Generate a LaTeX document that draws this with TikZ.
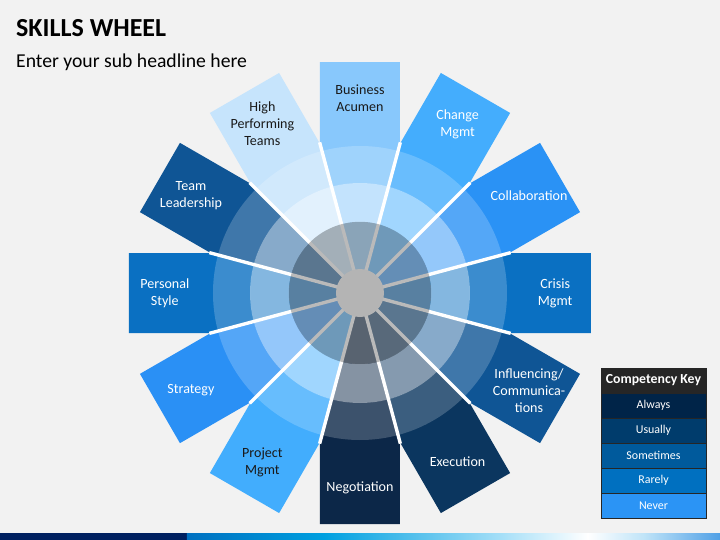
\documentclass[tikz,border=0pt]{standalone}
\usepackage{fontspec}
\setmainfont{Carlito}
\usetikzlibrary{positioning}
\definecolor{bgcol}{HTML}{F2F2F2}
\definecolor{acumen}{HTML}{88C8FC}
\definecolor{change}{HTML}{44ADFD}
\definecolor{collab}{HTML}{2A92F5}
\definecolor{crisis}{HTML}{0A70C2}
\definecolor{influ}{HTML}{0F5595}
\definecolor{execu}{HTML}{0B365F}
\definecolor{nego}{HTML}{0C2748}
\definecolor{project}{HTML}{42ADFD}
\definecolor{strategy}{HTML}{2A90F5}
\definecolor{personal}{HTML}{0A70C2}
\definecolor{teamlead}{HTML}{0F5595}
\definecolor{highperf}{HTML}{C6E4FC}
\definecolor{ringgray}{HTML}{8C8C8C}
\definecolor{hubgray}{HTML}{B4B4B4}
\definecolor{darktext}{HTML}{1A1A1A}
\definecolor{keyhd}{HTML}{262626}
\definecolor{always}{HTML}{002448}
\definecolor{usually}{HTML}{003C6C}
\definecolor{sometimes}{HTML}{005A9C}
\definecolor{rarely}{HTML}{0070C0}
\definecolor{never}{HTML}{2B94F5}
\definecolor{barnavy}{HTML}{002060}
\tikzset{
  divider/.style={draw=white, line width=2.4pt},
  seglabel/.style={align=center, font=\fontsize{10}{12}\selectfont},
  keyrow/.style={draw=black!85, line width=0.6pt, minimum width=2.625cm, minimum height=0.625cm,
    inner sep=0pt, outer sep=0pt, text=white, font=\fontsize{8.5}{10}\selectfont},
}
\begin{document}
\begin{tikzpicture}
\fill[bgcol] (-9,-6.175) rectangle (9,7.325);
\useasboundingbox (-9,-6.175) rectangle (9,7.325);

\node[anchor=base west, font=\fontsize{18.5}{22}\selectfont\bfseries] (title) at (-8.72,6.41) {SKILLS WHEEL};
\node[anchor=base west, font=\fontsize{14}{17}\selectfont] (subtitle) at (-8.72,5.63) {Enter your sub headline here};

\foreach \a/\c/\t/\txt in {90/acumen/darktext/{Business\\Acumen}, 60/change/white/{Change\\Mgmt},
    30/collab/white/{Collaboration}, 0/crisis/white/{Crisis\\Mgmt},
    -30/influ/white/{Influencing/\\Communica-\\tions}, -60/execu/white/{Execution},
    -90/nego/white/{Negotiation}, -120/project/darktext/{Project\\Mgmt},
    -150/strategy/white/{Strategy}, 180/personal/white/{Personal\\Style},
    150/teamlead/white/{Team\\Leadership}, 120/highperf/darktext/{High\\Performing\\Teams}} {
  \fill[\c, rotate=\a] (0,0) -- (3.732,-1) -- (5.775,-1) -- (5.775,1) -- (3.732,1) -- cycle;
  \node[seglabel, text=\t] (lbl-\c) at (\a:4.88) {\txt};
}
\foreach \a in {15,45,...,345}
  \draw[divider] (0,0) -- (\a:3.9);

\fill[white, opacity=0.2, even odd rule] (0,0) circle (3.675) (0,0) circle (2.75);
\fill[white, opacity=0.5, even odd rule] (0,0) circle (2.75) (0,0) circle (1.78);
\fill[ringgray, opacity=0.6] (0,0) circle (1.78);
\node[circle, fill=hubgray, minimum size=1.2cm, inner sep=0pt] (hub) at (0,0) {};

\node[keyrow, fill=keyhd, font=\fontsize{9.8}{12}\selectfont\bfseries] (keyhead) at (7.3375,-2.1875) {Competency Key};
\node[keyrow, fill=always, below=0pt of keyhead] (always) {Always};
\node[keyrow, fill=usually, below=0pt of always] (usually) {Usually};
\node[keyrow, fill=sometimes, below=0pt of usually] (sometimes) {Sometimes};
\node[keyrow, fill=rarely, below=0pt of sometimes] (rarely) {Rarely};
\node[keyrow, fill=never, below=0pt of rarely] (never) {Never};

\fill[barnavy] (-9,-6.175) rectangle (-4.325,-6.0);
\shade[left color=rarely, right color={rgb,255:red,0;green,160;blue,224}] (-4.33,-6.175) rectangle (-0.9,-6.0);
\shade[left color={rgb,255:red,0;green,160;blue,224}, right color={rgb,255:red,168;green,224;blue,248}] (-0.91,-6.175) rectangle (3.6,-6.0);
\shade[left color={rgb,255:red,168;green,224;blue,248}, right color=white] (3.59,-6.175) rectangle (5.7,-6.0);
\shade[left color=white, right color={rgb,255:red,192;green,228;blue,248}] (5.69,-6.175) rectangle (7.1,-6.0);
\shade[left color={rgb,255:red,192;green,228;blue,248}, right color={rgb,255:red,80;green,160;blue,230}] (7.09,-6.175) rectangle (9,-6.0);
\end{tikzpicture}
\end{document}
